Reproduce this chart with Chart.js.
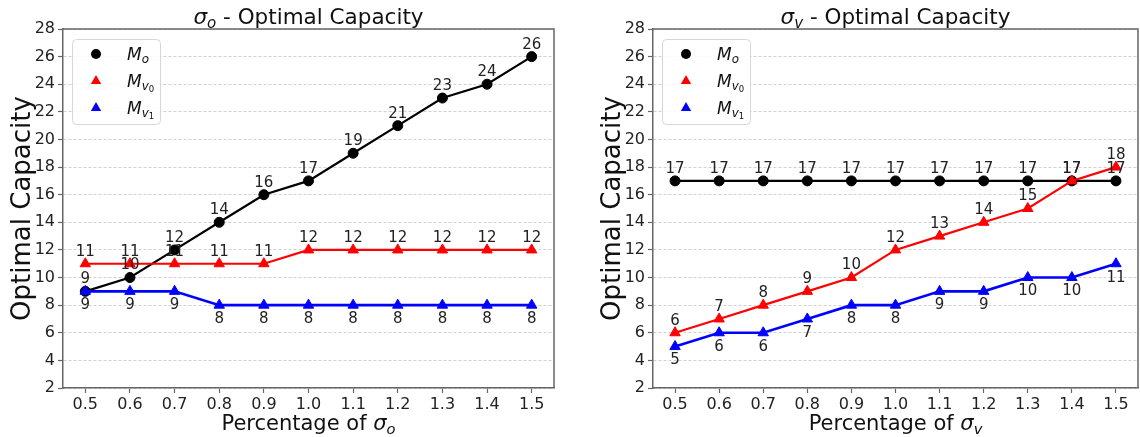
<!DOCTYPE html>
<html>
<head>
<meta charset="utf-8">
<script src="https://cdn.jsdelivr.net/npm/chart.js@4"></script>
<style>
  html, body { margin: 0; padding: 0; background: #fff; overflow: hidden; }
  #wrap { position: relative; width: 1140px; height: 437px; overflow: hidden; }
  #left { position: absolute; left: 0; top: 0; }
  #right { position: absolute; left: 570px; top: 0; }
</style>
</head>
<body>
<div id="wrap">
  <canvas id="left" width="570" height="437"></canvas>
  <canvas id="right" width="575" height="437"></canvas>
</div>
<script>
const percentages = ['0.5', '0.6', '0.7', '0.8', '0.9', '1.0', '1.1', '1.2', '1.3', '1.4', '1.5']
const yMin = 2
const yMax = 28
const yStep = 2

// sigma_o panel
const sigmaOMo = [9, 10, 12, 14, 16, 17, 19, 21, 23, 24, 26]
const sigmaOMv0 = [11, 11, 11, 11, 11, 12, 12, 12, 12, 12, 12]
const sigmaOMv1 = [9, 9, 9, 8, 8, 8, 8, 8, 8, 8, 8]

// sigma_v panel
const sigmaVMo = [17, 17, 17, 17, 17, 17, 17, 17, 17, 17, 17]
const sigmaVMv0 = [6, 7, 8, 9, 10, 12, 13, 14, 15, 17, 18]
const sigmaVMv1 = [5, 6, 6, 7, 8, 8, 9, 9, 10, 10, 11]

const FONT = "'DejaVu Sans', sans-serif"
const LEVEL_SIZE = [1, 0.7, 0.5]
const LEVEL_SHIFT = [0, 0.2, 0.32]

// segments: {t, it, lvl}
const segFont = (s, size) => (s.it ? 'italic ' : '') + (size * LEVEL_SIZE[s.lvl || 0]) + 'px ' + FONT

const richWidth = (ctx, segs, size) => segs.reduce((w, s) => {
  ctx.font = segFont(s, size)
  return w + ctx.measureText(s.t).width
}, 0)

const drawRich = (ctx, segs, x, y, size, align) => {
  const w = richWidth(ctx, segs, size)
  let cx = align === 'center' ? x - w / 2 : x
  ctx.save()
  ctx.textAlign = 'left'
  ctx.textBaseline = 'alphabetic'
  ctx.fillStyle = '#111'
  segs.forEach((s) => {
    ctx.font = segFont(s, size)
    ctx.fillText(s.t, cx, y + size * LEVEL_SHIFT[s.lvl || 0])
    cx += ctx.measureText(s.t).width
  })
  ctx.restore()
}

const legendItems = [
  { color: '#000', style: 'circle', label: [{ t: 'M', it: 1 }, { t: 'o', it: 1, lvl: 1 }] },
  { color: '#ff0000', style: 'triangle', label: [{ t: 'M', it: 1 }, { t: 'v', it: 1, lvl: 1 }, { t: '0', lvl: 2 }] },
  { color: '#0000ff', style: 'triangle', label: [{ t: 'M', it: 1 }, { t: 'v', it: 1, lvl: 1 }, { t: '1', lvl: 2 }] }
]

const decorPlugin = (sub) => ({
  id: 'decor',
  afterDatasetsDraw: (chart) => {
    const ctx = chart.ctx
    ctx.save()
    ctx.font = '15px ' + FONT
    ctx.fillStyle = '#222'
    ctx.textAlign = 'center'
    ctx.textBaseline = 'middle'
    chart.data.datasets.forEach((ds, di) => {
      const meta = chart.getDatasetMeta(di)
      meta.data.forEach((pt, i) => {
        const dy = ds.labelPos === 'below' ? 14 : -12
        ctx.fillText(String(ds.data[i]), pt.x, pt.y + dy)
      })
    })
    ctx.restore()
  },
  afterDraw: (chart) => {
    const ctx = chart.ctx
    const a = chart.chartArea
    // top and right spines
    ctx.save()
    ctx.strokeStyle = '#666'
    ctx.lineWidth = 1.5
    ctx.beginPath()
    ctx.moveTo(a.left, a.top)
    ctx.lineTo(a.right, a.top)
    ctx.lineTo(a.right, a.bottom)
    ctx.stroke()
    ctx.restore()

    // legend
    const lx = a.left + 9
    const ly = 39
    ctx.save()
    ctx.fillStyle = 'rgba(255,255,255,0.85)'
    ctx.strokeStyle = '#d6d6d6'
    ctx.lineWidth = 1
    ctx.beginPath()
    ctx.roundRect(lx + 0.5, ly + 0.5, 88, 85, 4)
    ctx.fill()
    ctx.stroke()
    ctx.restore()
    legendItems.forEach((item, i) => {
      const ry = ly + 15 + i * 27
      ctx.save()
      ctx.fillStyle = item.color
      ctx.beginPath()
      if (item.style === 'circle') {
        ctx.arc(lx + 24, ry, 5, 0, Math.PI * 2)
      } else {
        ctx.moveTo(lx + 24, ry - 6)
        ctx.lineTo(lx + 24 + 5.2, ry + 3)
        ctx.lineTo(lx + 24 - 5.2, ry + 3)
        ctx.closePath()
      }
      ctx.fill()
      ctx.restore()
      drawRich(ctx, item.label, lx + 55, ry + 6, 17, 'left')
    })

    const cx = (a.left + a.right) / 2
    // title
    drawRich(ctx, [{ t: 'σ', it: 1 }, { t: sub, it: 1, lvl: 1 }, { t: ' - Optimal Capacity' }], cx, 24, 21.5, 'center')
    // x axis title
    drawRich(ctx, [{ t: 'Percentage of ' }, { t: 'σ', it: 1 }, { t: sub, it: 1, lvl: 1 }], cx, 430, 21, 'center')
    // y axis title
    ctx.save()
    ctx.translate(a.left - 40, (a.top + a.bottom) / 2)
    ctx.rotate(-Math.PI / 2)
    ctx.font = '26px ' + FONT
    ctx.fillStyle = '#111'
    ctx.textAlign = 'center'
    ctx.textBaseline = 'middle'
    ctx.fillText('Optimal Capacity', 0, 0)
    ctx.restore()
  }
})

const lineSet = (data, color, style, labelPos, order, width) => ({
  data,
  labelPos,
  order,
  borderColor: color,
  backgroundColor: color,
  borderWidth: width,
  pointStyle: style,
  pointRadius: style === 'circle' ? 5 : 6,
  pointBorderWidth: 1,
  pointBorderColor: color,
  pointBackgroundColor: color,
  tension: 0,
  fill: false
})

const makeChart = (id, mo, mv0, mv1, sub, axisWidth, rightPad) => new Chart(document.getElementById(id), {
  type: 'line',
  data: {
    labels: percentages,
    datasets: [
      lineSet(mo, '#000', 'circle', 'above', 3, 2.2),
      lineSet(mv0, '#ff0000', 'triangle', 'above', 2, 2.2),
      lineSet(mv1, '#0000ff', 'triangle', 'below', 1, 2.6)
    ]
  },
  options: {
    responsive: false,
    animation: false,
    layout: { padding: { top: 29, right: rightPad, bottom: 0, left: 0 } },
    plugins: { legend: { display: false }, title: { display: false }, tooltip: { enabled: false } },
    scales: {
      x: {
        type: 'category',
        offset: true,
        grid: { display: true, drawOnChartArea: false, tickLength: 5, tickColor: '#666', tickWidth: 1.2 },
        border: { display: true, color: '#666', width: 1.5 },
        ticks: { font: { family: FONT, size: 16 }, color: '#222', padding: 2, maxRotation: 0, autoSkip: false },
        afterFit: (s) => { s.height = 49 }
      },
      y: {
        min: yMin,
        max: yMax,
        grid: { color: '#c4c4c4', lineWidth: 0.8, tickLength: 5, tickColor: '#666', tickWidth: 1.2 },
        border: { display: true, color: '#666', width: 1.5, dash: [3, 2] },
        ticks: { stepSize: yStep, font: { family: FONT, size: 16 }, color: '#222', padding: 3 },
        afterFit: (s) => { s.width = axisWidth }
      }
    }
  },
  plugins: [decorPlugin(sub)]
})

makeChart('left', sigmaOMo, sigmaOMv0, sigmaOMv1, 'o', 63, 16)
makeChart('right', sigmaVMo, sigmaVMv0, sigmaVMv1, 'v', 83, 0)
</script>
</body>
</html>
